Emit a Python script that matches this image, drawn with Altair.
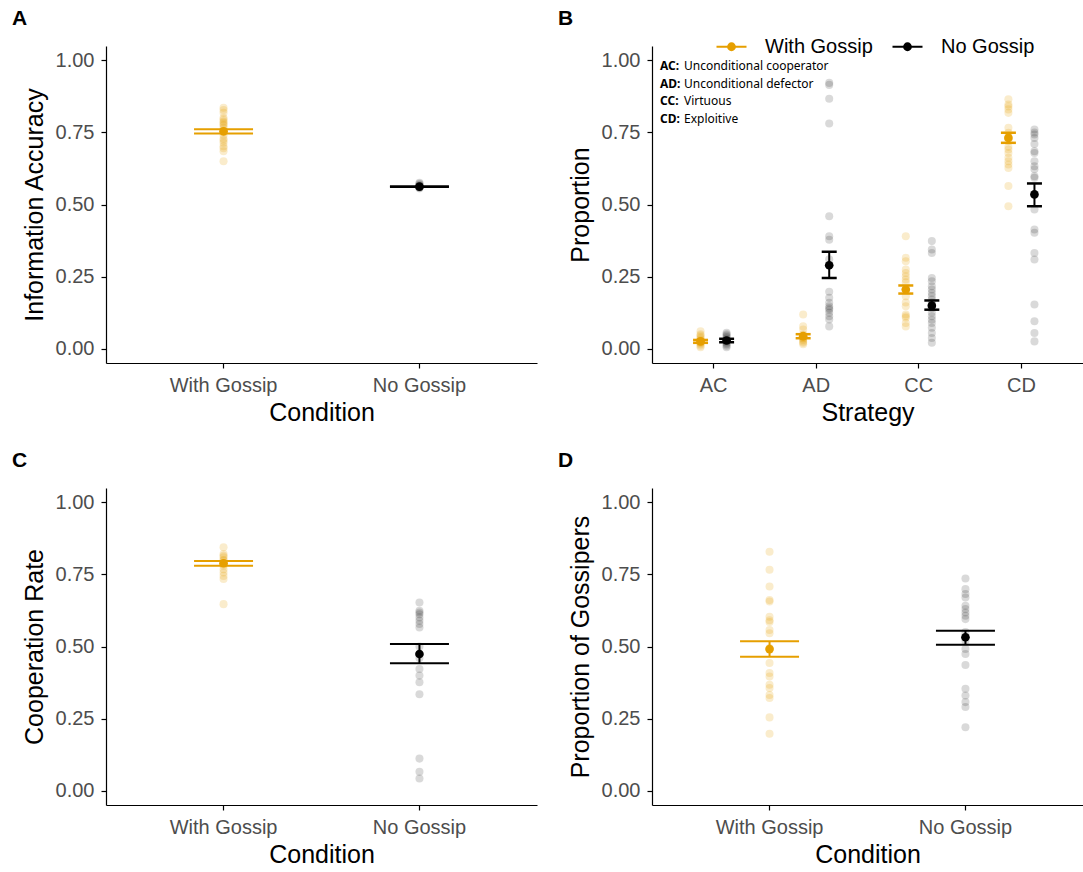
import altair as alt
import pandas as pd

FONT = "Liberation Sans"
ANNOT_FONT = "Noto Sans"

conditions = ["With Gossip", "No Gossip"]
colors = ["#E69F00", "#000000"]
point_opacity = [0.2, 0.15]

strategies = ["AC", "AD", "CC", "CD"]
strategy_names = ["Unconditional cooperator", "Unconditional defector", "Virtuous", "Exploitive"]

# ---- Panel A: information accuracy ----
acc_with = [0.836, 0.828, 0.818, 0.80, 0.795, 0.788, 0.784, 0.778, 0.774, 0.765, 0.755,
            0.75, 0.74, 0.728, 0.722, 0.714, 0.702, 0.695, 0.685, 0.65]
acc_no = [0.556, 0.558, 0.56, 0.562, 0.565, 0.568, 0.572, 0.575]
acc_mean = [0.754, 0.562]
acc_lo = [0.746, 0.561]
acc_hi = [0.761, 0.563]

# ---- Panel B: strategy proportions ----
prop_with = {
    "AC": [0.005, 0.01, 0.015, 0.02, 0.02, 0.025, 0.03, 0.035, 0.04, 0.045, 0.05, 0.06],
    "AD": [0.118, 0.077, 0.066, 0.049, 0.045, 0.04, 0.037, 0.03, 0.025, 0.02, 0.015, 0.035],
    "CC": [0.39, 0.315, 0.303, 0.274, 0.262, 0.251, 0.24, 0.23, 0.205, 0.182, 0.16, 0.147,
           0.118, 0.112, 0.107, 0.089, 0.077],
    "CD": [0.865, 0.847, 0.84, 0.83, 0.818, 0.766, 0.749, 0.735, 0.72, 0.70, 0.691, 0.679,
           0.662, 0.65, 0.639, 0.627, 0.564, 0.494],
}
prop_no = {
    "AC": [0.005, 0.01, 0.015, 0.02, 0.025, 0.03, 0.035, 0.04, 0.045, 0.05, 0.055],
    "AD": [0.922, 0.915, 0.867, 0.781, 0.459, 0.39, 0.378, 0.31, 0.197, 0.176, 0.159, 0.147,
           0.14, 0.135, 0.124, 0.112, 0.101, 0.077],
    "CC": [0.373, 0.344, 0.332, 0.245, 0.234, 0.216, 0.205, 0.193, 0.182, 0.17, 0.16, 0.15,
           0.14, 0.125, 0.112, 0.1, 0.089, 0.072, 0.054, 0.037, 0.02],
    "CD": [0.76, 0.75, 0.743, 0.731, 0.71, 0.685, 0.679, 0.65, 0.633, 0.622, 0.598, 0.593,
           0.483, 0.413, 0.402, 0.332, 0.309, 0.153, 0.095, 0.054, 0.025],
}
prop_mean_with = [0.025, 0.043, 0.205, 0.731]
prop_lo_with = [0.020, 0.036, 0.191, 0.714]
prop_hi_with = [0.030, 0.050, 0.219, 0.749]
prop_mean_no = [0.028, 0.289, 0.149, 0.535]
prop_lo_no = [0.022, 0.245, 0.135, 0.494]
prop_hi_no = [0.034, 0.336, 0.167, 0.573]

# ---- Panel C: cooperation rate ----
coop_with = [0.844, 0.821, 0.815, 0.81, 0.80, 0.798, 0.79, 0.785, 0.78, 0.768, 0.757,
             0.745, 0.734, 0.647]
coop_no = [0.653, 0.624, 0.618, 0.612, 0.601, 0.589, 0.578, 0.566, 0.50, 0.46, 0.422,
           0.399, 0.376, 0.334, 0.111, 0.065, 0.042]
coop_mean = [0.789, 0.474]
coop_lo = [0.780, 0.442]
coop_hi = [0.797, 0.509]

# ---- Panel D: proportion of gossipers ----
goss_with = [0.829, 0.766, 0.708, 0.661, 0.656, 0.603, 0.591, 0.585, 0.557, 0.546, 0.495,
             0.443, 0.408, 0.396, 0.367, 0.356, 0.332, 0.321, 0.254, 0.197]
goss_no = [0.736, 0.699, 0.682, 0.670, 0.641, 0.630, 0.618, 0.607, 0.595, 0.55, 0.52,
           0.491, 0.474, 0.436, 0.353, 0.330, 0.307, 0.290, 0.220]
goss_mean = [0.491, 0.532]
goss_lo = [0.464, 0.506]
goss_hi = [0.518, 0.555]

W, H = 431, 317

y_scale = alt.Scale(domain=[-0.05, 1.05], nice=False, zero=False)
# hidden-legend scales list the domain in reverse order so that Vega-Lite does not
# merge them (and their disabled legends) with the visible legend's scale
color_scale = alt.Scale(domain=conditions[::-1], range=colors[::-1])
opacity_scale = alt.Scale(domain=conditions[::-1], range=point_opacity[::-1])
legend_scale = alt.Scale(domain=conditions, range=colors)


def y_axis(title):
    return alt.Axis(title=title, values=[0, 0.25, 0.5, 0.75, 1.0], format=".2f")


def label_layer(letter):
    return alt.Chart(pd.DataFrame({"t": [letter]})).mark_text(
        align="left", baseline="alphabetic", fontSize=21, fontWeight="bold",
        font=FONT, color="black"
    ).encode(x=alt.value(-94), y=alt.value(-21), text="t:N")


def cond_panel(letter, ytitle, with_vals, no_vals, mean, lo, hi):
    pts = pd.DataFrame({
        "cond": [conditions[0]] * len(with_vals) + [conditions[1]] * len(no_vals),
        "value": with_vals + no_vals,
    })
    summ = pd.DataFrame({"cond": conditions, "mean": mean, "lo": lo, "hi": hi})
    x = alt.X("cond:N", scale=alt.Scale(domain=conditions, paddingInner=0, paddingOuter=0.1),
              axis=alt.Axis(title="Condition", labelAngle=0))
    color = alt.Color("cond:N", scale=color_scale, legend=None)
    points = alt.Chart(pts).mark_circle(size=65).encode(
        x=x,
        y=alt.Y("value:Q", scale=y_scale, axis=y_axis(ytitle)),
        color=color,
        opacity=alt.Opacity("cond:N", scale=opacity_scale, legend=None),
    )
    base = alt.Chart(summ).encode(x=x, color=color)
    rule = base.mark_rule(strokeWidth=2).encode(y="lo:Q", y2="hi:Q")
    cap_lo = base.mark_tick(size=59, thickness=2, opacity=1).encode(y="lo:Q")
    cap_hi = base.mark_tick(size=59, thickness=2, opacity=1).encode(y="hi:Q")
    mean_pt = base.mark_circle(size=75, opacity=1).encode(y="mean:Q")
    return alt.layer(points, rule, cap_lo, cap_hi, mean_pt, label_layer(letter)).properties(
        width=W, height=H)


# Panel B
rows = []
for cond, d in zip(conditions, [prop_with, prop_no]):
    for s in strategies:
        for v in d[s]:
            rows.append({"strategy": s, "cond": cond, "value": v})
ptsB = pd.DataFrame(rows)
summB = pd.DataFrame({
    "strategy": strategies * 2,
    "cond": [conditions[0]] * 4 + [conditions[1]] * 4,
    "mean": prop_mean_with + prop_mean_no,
    "lo": prop_lo_with + prop_lo_no,
    "hi": prop_hi_with + prop_hi_no,
})

xB = alt.X("strategy:N", scale=alt.Scale(domain=strategies, paddingInner=0, paddingOuter=0.1),
           axis=alt.Axis(title="Strategy", labelAngle=0))
xoffB = alt.XOffset("cond:N", scale=alt.Scale(domain=conditions, paddingInner=0, paddingOuter=0.97))
colorB = alt.Color("cond:N", scale=color_scale, legend=None)

# line with a dot (dot drawn as concentric rings so a stroke-only symbol looks filled)
LEG_PATH = ("M-1,0H1"
            "M-0.22,0A0.22,0.22,0,1,1,0.22,0A0.22,0.22,0,1,1,-0.22,0"
            "M-0.12,0A0.12,0.12,0,1,1,0.12,0A0.12,0.12,0,1,1,-0.12,0"
            "M-0.04,0A0.04,0.04,0,1,1,0.04,0A0.04,0.04,0,1,1,-0.04,0")
legB = alt.Legend(title="", orient="none", legendX=63, legendY=-16, direction="horizontal",
                  symbolType=LEG_PATH, symbolSize=900, symbolStrokeWidth=2.2,
                  labelFontSize=20, labelFont=FONT, labelColor="black", labelOffset=17,
                  columnPadding=15)

pointsB = alt.Chart(ptsB).mark_circle(size=65).encode(
    x=xB, xOffset=xoffB,
    y=alt.Y("value:Q", scale=y_scale, axis=y_axis("Proportion")),
    color=colorB,
    opacity=alt.Opacity("cond:N", scale=opacity_scale, legend=None),
)
baseB = alt.Chart(summB).encode(x=xB, xOffset=xoffB, color=colorB)
ruleB = alt.Chart(summB).mark_rule(strokeWidth=2).encode(
    x=xB, xOffset=xoffB, y="lo:Q", y2="hi:Q",
    stroke=alt.Stroke("cond:N", scale=legend_scale, legend=legB),
)
capB_lo = baseB.mark_tick(size=15, thickness=2.5, opacity=1).encode(y="lo:Q")
capB_hi = baseB.mark_tick(size=15, thickness=2.5, opacity=1).encode(y="hi:Q")
meanB = baseB.mark_circle(size=75, opacity=1).encode(y="mean:Q")
abbr = alt.Chart(pd.DataFrame({"k": [0]})).mark_text(
    align="left", baseline="middle", fontSize=12, fontWeight="bold", font=ANNOT_FONT,
    color="black", lineHeight=17.5, text=[s + ":" for s in strategies]
).encode(x=alt.value(8), y=alt.value(20))
names = alt.Chart(pd.DataFrame({"k": [0]})).mark_text(
    align="left", baseline="middle", fontSize=12, font=ANNOT_FONT,
    color="black", lineHeight=17.5, text=strategy_names
).encode(x=alt.value(32), y=alt.value(20))

panelB = alt.layer(pointsB, ruleB, capB_lo, capB_hi, meanB, abbr, names, label_layer("B")).properties(
    width=W, height=H)

panelA = cond_panel("A", "Information Accuracy", acc_with, acc_no, acc_mean, acc_lo, acc_hi)
panelC = cond_panel("C", "Cooperation Rate", coop_with, coop_no, coop_mean, coop_lo, coop_hi)
panelD = cond_panel("D", "Proportion of Gossipers", goss_with, goss_no, goss_mean, goss_lo, goss_hi)

indep = dict(color="independent", stroke="independent", opacity="independent")

row1 = alt.hconcat(panelA, panelB, spacing=21).resolve_scale(**indep).resolve_legend(**indep)
row2 = alt.hconcat(panelC, panelD, spacing=21).resolve_scale(**indep).resolve_legend(**indep)

chart = alt.vconcat(row1, row2, spacing=25).resolve_scale(**indep).resolve_legend(**indep).properties(
    padding={"left": 12, "top": 8, "right": 0, "bottom": 0},
    background="white",
).configure_axis(
    grid=False, domainColor="black", domainWidth=1.2, tickColor="black", tickWidth=1.2,
    tickSize=5, labelPadding=7, labelFont=FONT, labelFontSize=20, labelColor="#4D4D4D",
    titleFont=FONT, titleFontSize=25, titleFontWeight="normal", titleColor="black",
).configure_axisX(titlePadding=5).configure_axisY(titlePadding=8).configure_view(stroke=None)

chart.save("out.html", embed_options={"renderer": "svg", "actions": False})
